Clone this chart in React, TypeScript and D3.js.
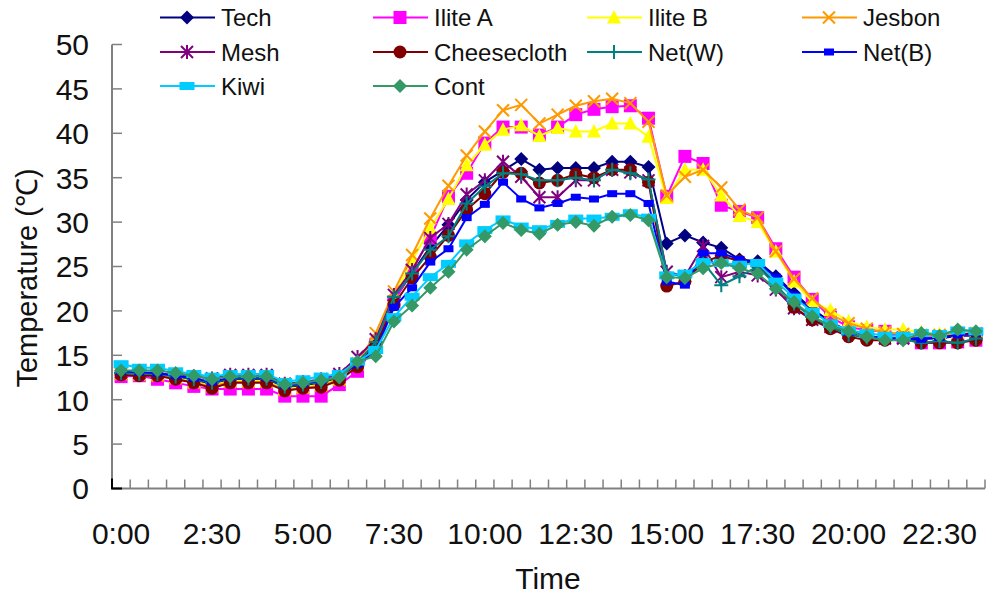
import React from 'react';
import * as d3 from 'd3';

const times = [
  '0:00', '0:30', '1:00', '1:30', '2:00', '2:30', '3:00', '3:30', '4:00', '4:30', '5:00', '5:30',
  '6:00', '6:30', '7:00', '7:30', '8:00', '8:30', '9:00', '9:30', '10:00', '10:30', '11:00', '11:30',
  '12:00', '12:30', '13:00', '13:30', '14:00', '14:30', '15:00', '15:30', '16:00', '16:30', '17:00', '17:30',
  '18:00', '18:30', '19:00', '19:30', '20:00', '20:30', '21:00', '21:30', '22:00', '22:30', '23:00', '23:30',
];
const xTickLabels = ['0:00', '2:30', '5:00', '7:30', '10:00', '12:30', '15:00', '17:30', '20:00', '22:30'];
const yTicks = [0, 5, 10, 15, 20, 25, 30, 35, 40, 45, 50];

const tech = [13.0, 12.9, 12.9, 12.6, 12.2, 11.8, 12.3, 12.3, 12.3, 11.4, 11.6, 11.9, 12.4, 13.8,
  16.3, 21.2, 24.3, 27.2, 29.7, 32.5, 34.5, 35.8, 37.1, 35.9, 36.1, 36.1, 36.1, 36.8, 36.8, 36.2,
  27.6, 28.5, 27.7, 27.1, 25.8, 25.6, 23.9, 22.0, 20.2, 18.8, 17.7, 17.2, 16.9, 16.9, 16.9, 16.9, 17.2, 17.2];
const iliteA = [12.6, 12.7, 12.3, 11.9, 11.5, 11.2, 11.2, 11.2, 11.2, 10.4, 10.4, 10.4, 11.7, 13.2,
  16.2, 21.0, 24.6, 28.2, 32.9, 35.5, 38.9, 40.7, 40.7, 39.8, 40.7, 42.1, 42.7, 43.0, 43.1, 41.7,
  32.9, 37.4, 36.6, 31.9, 31.2, 30.5, 27.0, 23.8, 21.3, 19.3, 18.2, 17.8, 17.7, 17.0, 16.4, 16.4, 16.5, 16.7];
const iliteB = [13.0, 12.9, 12.8, 12.5, 12.0, 11.6, 12.1, 12.1, 12.1, 11.2, 11.4, 11.7, 12.3, 14.0,
  16.9, 21.6, 25.7, 29.3, 32.6, 36.4, 38.7, 40.4, 40.9, 39.7, 40.6, 40.2, 40.2, 41.1, 41.1, 39.6,
  32.7, 35.9, 35.9, 33.0, 30.7, 30.0, 26.7, 23.3, 21.0, 20.1, 18.8, 18.2, 17.9, 17.9, 17.6, 17.4, 17.5, 17.6];
const jesbon = [12.9, 12.8, 12.7, 12.4, 11.9, 11.5, 12.0, 12.0, 12.0, 11.1, 11.3, 11.6, 12.2, 14.1,
  17.5, 22.2, 26.3, 30.4, 34.1, 37.5, 40.2, 42.6, 43.2, 41.1, 42.1, 43.1, 43.6, 43.9, 43.4, 41.3,
  33.0, 35.1, 35.9, 33.9, 31.4, 30.5, 26.7, 23.6, 21.4, 19.6, 18.6, 18.0, 17.6, 17.4, 17.3, 17.3, 17.4, 17.5];
const mesh = [13.1, 13.0, 13.0, 12.7, 12.6, 12.4, 12.8, 12.8, 12.8, 11.8, 12.0, 12.3, 12.9, 14.8,
  16.8, 21.8, 24.6, 28.2, 29.8, 33.1, 34.7, 36.8, 35.1, 32.8, 32.8, 34.7, 34.7, 35.9, 35.6, 34.7,
  24.4, 23.9, 27.3, 23.8, 24.4, 24.0, 22.4, 20.3, 19.0, 18.2, 17.5, 17.2, 16.9, 16.9, 17.0, 17.0, 17.3, 17.3];
const cheesecloth = [12.8, 12.7, 12.7, 12.3, 11.9, 11.3, 11.9, 11.9, 11.9, 11.0, 11.3, 11.4, 12.2, 13.7,
  16.0, 20.7, 23.7, 26.1, 28.5, 31.4, 33.2, 35.6, 35.5, 34.4, 34.7, 35.4, 35.0, 35.9, 35.9, 34.5,
  22.8, 23.3, 25.5, 26.2, 25.6, 25.2, 23.0, 20.4, 19.0, 18.0, 17.1, 16.7, 16.7, 16.9, 16.4, 16.4, 16.4, 16.7];
const netW = [13.0, 12.9, 12.9, 12.6, 12.3, 11.9, 12.4, 12.4, 12.4, 11.5, 11.7, 12.0, 12.6, 14.2,
  16.5, 21.6, 24.2, 26.9, 28.4, 32.1, 34.0, 35.5, 35.4, 34.7, 34.7, 35.0, 34.7, 35.9, 35.5, 34.8,
  24.2, 23.9, 25.5, 22.9, 23.9, 25.0, 22.9, 20.8, 19.3, 18.2, 17.3, 17.0, 16.8, 16.8, 16.4, 16.6, 16.4, 16.9];
const netB = [13.2, 13.1, 13.0, 12.7, 12.4, 12.0, 12.5, 12.5, 12.5, 11.6, 11.8, 12.1, 12.6, 14.0,
  15.5, 20.4, 22.6, 25.5, 27.0, 30.5, 32.0, 34.5, 32.6, 31.6, 32.1, 32.8, 32.6, 33.2, 33.2, 32.1,
  23.3, 22.9, 26.5, 26.5, 25.8, 25.4, 23.8, 21.8, 20.0, 18.6, 17.6, 17.2, 16.9, 16.9, 16.8, 17.0, 17.3, 17.5];
const kiwi = [14.0, 13.6, 13.6, 13.2, 12.9, 12.6, 12.9, 12.9, 12.9, 12.0, 12.3, 12.6, 12.9, 14.3,
  15.6, 19.3, 21.6, 23.8, 25.3, 27.6, 29.1, 30.3, 29.5, 29.2, 29.8, 30.4, 30.4, 30.6, 31.0, 30.5,
  24.0, 24.2, 25.5, 25.4, 25.2, 25.4, 23.3, 21.5, 19.9, 18.6, 17.8, 17.5, 17.2, 17.2, 17.5, 17.4, 17.8, 17.7];
const cont = [13.3, 13.3, 13.3, 13.0, 12.7, 12.3, 12.6, 12.6, 12.6, 11.7, 11.9, 12.2, 12.5, 14.3,
  14.9, 18.8, 20.6, 22.6, 24.4, 26.9, 28.4, 29.9, 29.1, 28.7, 29.7, 30.0, 29.6, 30.6, 30.8, 30.2,
  23.8, 23.7, 24.8, 25.4, 24.8, 24.2, 22.5, 21.0, 19.4, 18.3, 17.7, 17.1, 16.7, 16.7, 17.5, 17.2, 17.9, 17.7];

const series = [
  { name: 'Tech', values: tech, color: '#000080', marker: 'diamond' },
  { name: 'Ilite A', values: iliteA, color: '#FF00FF', marker: 'square' },
  { name: 'Ilite B', values: iliteB, color: '#FFFF00', marker: 'triangle' },
  { name: 'Jesbon', values: jesbon, color: '#FF9900', marker: 'x' },
  { name: 'Mesh', values: mesh, color: '#800080', marker: 'star' },
  { name: 'Cheesecloth', values: cheesecloth, color: '#800000', marker: 'circle' },
  { name: 'Net(W)', values: netW, color: '#008080', marker: 'plus' },
  { name: 'Net(B)', values: netB, color: '#0000FF', marker: 'smallrect' },
  { name: 'Kiwi', values: kiwi, color: '#00CCFF', marker: 'widerect' },
  { name: 'Cont', values: cont, color: '#339966', marker: 'diamond' },
];

const W = 986;
const H = 594;
const plot = { left: 112, right: 985, top: 44.5, bottom: 488.5 };
const font = '"Liberation Sans", Arial, sans-serif';

function Marker({ type, x, y, color }: { type: string; x: number; y: number; color: string }) {
  switch (type) {
    case 'diamond':
      return <path d={`M${x},${y - 7}L${x + 7},${y}L${x},${y + 7}L${x - 7},${y}Z`} fill={color} />;
    case 'square':
      return <rect x={x - 6.5} y={y - 6.5} width={13} height={13} fill={color} />;
    case 'triangle':
      return <path d={`M${x},${y - 7.5}L${x + 7},${y + 6}L${x - 7},${y + 6}Z`} fill={color} />;
    case 'x':
      return <path d={`M${x - 6},${y - 6}L${x + 6},${y + 6}M${x + 6},${y - 6}L${x - 6},${y + 6}`} stroke={color} strokeWidth={2} />;
    case 'star':
      return <path d={`M${x - 6},${y - 6}L${x + 6},${y + 6}M${x + 6},${y - 6}L${x - 6},${y + 6}M${x},${y - 7}L${x},${y + 7}`} stroke={color} strokeWidth={2} />;
    case 'circle':
      return <circle cx={x} cy={y} r={6.5} fill={color} />;
    case 'plus':
      return <path d={`M${x - 7},${y}L${x + 7},${y}M${x},${y - 7}L${x},${y + 7}`} stroke={color} strokeWidth={2} />;
    case 'smallrect':
      return <rect x={x - 5} y={y - 3.5} width={10} height={7} fill={color} />;
    case 'widerect':
      return <rect x={x - 7.5} y={y - 4} width={15} height={8} fill={color} />;
    default:
      return null;
  }
}

export default function App() {
  const x = d3.scaleBand<string>().domain(times).range([plot.left, plot.right]).padding(0);
  const cx = (t: string) => (x(t) as number) + x.bandwidth() / 2;
  const y = d3.scaleLinear().domain([0, 50]).range([plot.bottom, plot.top]);

  const line = d3.line<number>()
    .x((_, i) => cx(times[i]))
    .y((d) => y(d));

  const legendCols = [160, 373, 587, 802];
  const legendRows = [17.5, 52, 86];

  return (
    <svg width={W} height={H} style={{ position: 'absolute', left: 0, top: 0, background: '#fff' }} fontFamily={font}>
      {/* axes */}
      <line x1={plot.left} x2={plot.left} y1={plot.top} y2={plot.bottom} stroke="#808080" strokeWidth={2} />
      <line x1={plot.left} x2={plot.right} y1={plot.bottom} y2={plot.bottom} stroke="#808080" strokeWidth={2} />
      {yTicks.map((t) => (
        <g key={t}>
          <line x1={plot.left} x2={plot.left + 10} y1={y(t)} y2={y(t)} stroke="#808080" strokeWidth={1.5} />
          <text x={89} y={y(t)} dy="0.36em" textAnchor="end" fontSize={30} fill="#111">{t}</text>
        </g>
      ))}
      {[...times, null].map((t, i) => {
        const xx = t === null ? plot.right : (x(t) as number);
        return <line key={i} x1={xx} x2={xx} y1={plot.bottom} y2={plot.bottom - 9} stroke="#808080" strokeWidth={1.5} />;
      })}
      <path d={`M${plot.left},${plot.bottom - 10}V${plot.bottom}H${plot.left + 10}`} fill="none" stroke="#000" strokeWidth={2} />
      {xTickLabels.map((t) => (
        <text key={t} x={cx(t)} y={544} textAnchor="middle" fontSize={30} fill="#111">{t}</text>
      ))}
      <text x={548} y={589} textAnchor="middle" fontSize={30} fill="#111">Time</text>
      <text transform={`translate(37,${278}) rotate(-90)`} textAnchor="middle" fontSize={29} fill="#111">Temperature (℃)</text>

      {/* series */}
      {series.map((s) => (
        <g key={s.name}>
          <path d={line(s.values) || ''} fill="none" stroke={s.color} strokeWidth={2} />
          {s.values.map((v, i) => (
            <Marker key={i} type={s.marker} x={cx(times[i])} y={y(v)} color={s.color} />
          ))}
        </g>
      ))}

      {/* legend */}
      {series.map((s, i) => {
        const lx = legendCols[i % 4];
        const ly = legendRows[Math.floor(i / 4)];
        return (
          <g key={s.name}>
            <line x1={lx} x2={lx + 55} y1={ly} y2={ly} stroke={s.color} strokeWidth={2} />
            <Marker type={s.marker} x={lx + 27} y={ly} color={s.color} />
            <text x={lx + 61} y={ly} dy="0.36em" fontSize={24} fill="#111">{s.name}</text>
          </g>
        );
      })}
    </svg>
  );
}
